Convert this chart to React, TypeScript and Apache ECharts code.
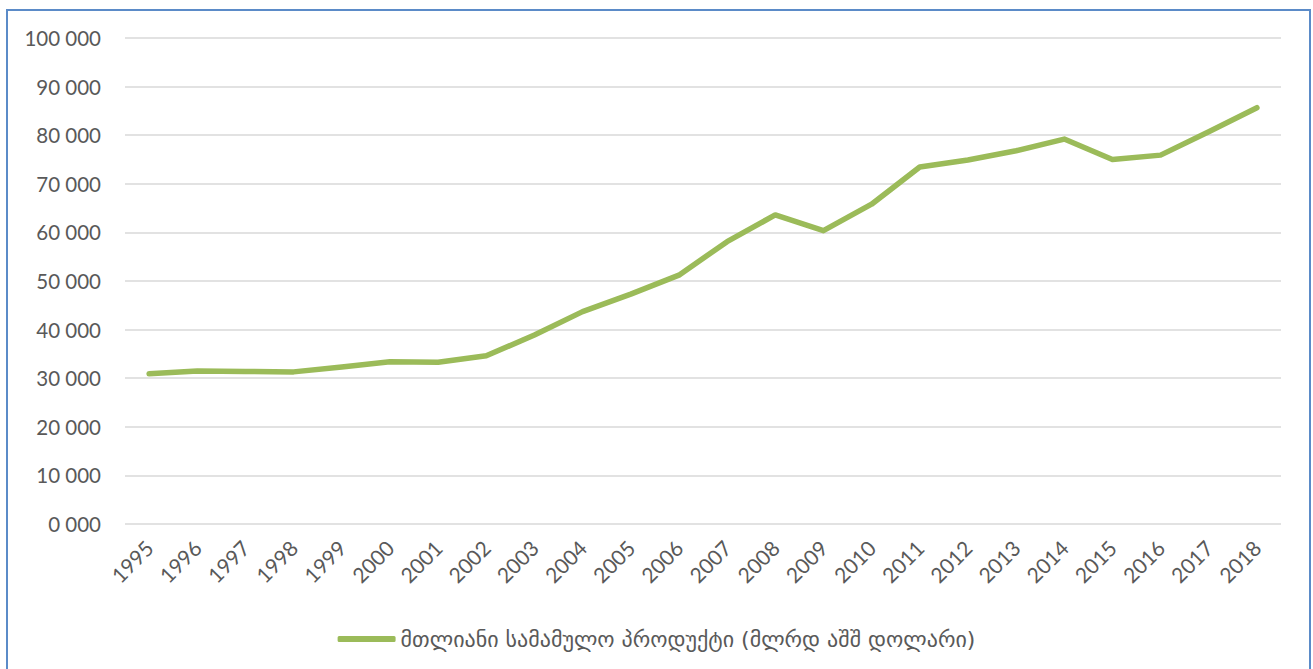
import React, { useEffect, useRef } from "react";
import * as echarts from "echarts";

const years = ["1995","1996","1997","1998","1999","2000","2001","2002","2003","2004","2005","2006","2007","2008","2009","2010","2011","2012","2013","2014","2015","2016","2017","2018"];
const gdp = [30900,31500,31400,31300,32300,33400,33300,34600,38900,43700,47300,51200,58100,63600,60350,65800,73450,74900,76800,79200,75000,75900,80700,85650];
const seriesName = "მთლიანი სამამულო პროდუქტი (მლრდ აშშ დოლარი)";

const fmt = (v: number) => {
  if (v === 0) return "0 000";
  return String(Math.round(v)).replace(/\B(?=(\d{3})+(?!\d))/g, " ");
};

export default function App() {
  const ref = useRef<HTMLDivElement>(null);
  useEffect(() => {
    const chart = echarts.init(ref.current!, null, { renderer: "svg" });
    chart.setOption({
      animation: false,
      backgroundColor: "#ffffff",
      textStyle: { fontFamily: "Lato, 'DejaVu Sans', sans-serif" },
      graphic: [
        {
          type: "rect",
          shape: { x: 7, y: 10, width: 1303, height: 700 },
          style: { fill: "none", stroke: "#5b8bc8", lineWidth: 2 },
          silent: true,
        },
      ],
      grid: { left: 125, right: 32, top: 38, bottom: 145 },
      xAxis: {
        type: "category",
        data: years,
        boundaryGap: true,
        axisLine: { show: false },
        axisTick: { show: false },
        axisLabel: {
          rotate: 45,
          margin: 20,
          color: "#595959",
          fontSize: 21,
          fontFamily: "Lato, sans-serif",
        },
      },
      yAxis: {
        type: "value",
        min: 0,
        max: 100000,
        interval: 10000,
        axisLine: { show: false },
        axisTick: { show: false },
        splitLine: { lineStyle: { color: "#d9d9d9", width: 1.5 } },
        axisLabel: {
          formatter: fmt,
          margin: 24,
          color: "#595959",
          fontSize: 20.5,
          fontFamily: "Lato, sans-serif",
        },
      },
      legend: {
        data: [{ name: seriesName, icon: "roundRect" }],
        left: "center",
        top: 623,
        itemWidth: 58,
        itemHeight: 6,
        itemGap: 10,
        textStyle: {
          color: "#595959",
          fontSize: 22,
          fontFamily: "'DejaVu Sans', sans-serif",
        },
      },
      series: [
        {
          name: seriesName,
          type: "line",
          data: gdp,
          symbol: "none",
          lineStyle: { color: "#9bbb59", width: 5.5, cap: "round", join: "round" },
          itemStyle: { color: "#9bbb59" },
        },
      ],
    });
    return () => chart.dispose();
  }, []);
  return (
    <div
      ref={ref}
      style={{ position: "absolute", left: 0, top: 0, width: 1313, height: 669 }}
    />
  );
}
